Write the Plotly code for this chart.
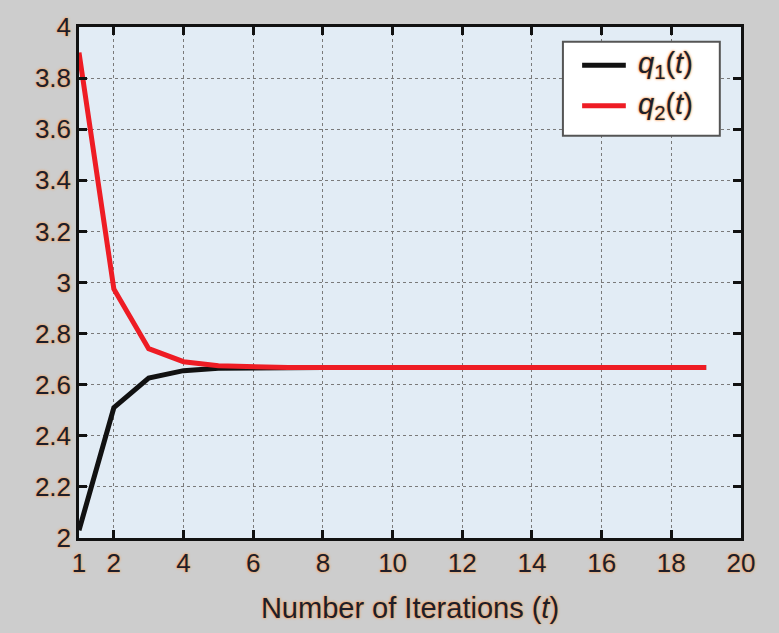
import plotly.graph_objects as go

t = list(range(1, 20))
q1 = [2.03, 2.51, 2.626, 2.655, 2.664, 2.666, 2.667, 2.667, 2.667, 2.667,
      2.667, 2.667, 2.667, 2.667, 2.667, 2.667, 2.667, 2.667, 2.667]
q2 = [3.90, 2.975, 2.741, 2.690, 2.674, 2.669, 2.667, 2.667, 2.667, 2.667,
      2.667, 2.667, 2.667, 2.667, 2.667, 2.667, 2.667, 2.667, 2.667]
x_ticks = [1, 2, 4, 6, 8, 10, 12, 14, 16, 18, 20]
y_ticks = [2, 2.2, 2.4, 2.6, 2.8, 3, 3.2, 3.4, 3.6, 3.8, 4]
y_labels = ["2", "2.2", "2.4", "2.6", "2.8", "3", "3.2", "3.4", "3.6", "3.8", "4"]
names = ["<i>q</i><sub>1</sub>(<i>t</i>)", "<i>q</i><sub>2</sub>(<i>t</i>)"]
colors = ["#111111", "#ee1c24"]

glow = "0 0 3px #f5a868, 0 0 2px #f5a868, 0 0 1px #f5a868"
family = "Liberation Sans, Arial, sans-serif"
font = dict(family=family, color="#1e1e2a", shadow=glow)

fig = go.Figure()
for ys, nm, c in zip([q1, q2], names, colors):
    fig.add_trace(go.Scatter(x=t, y=ys, mode="lines", name=nm,
                             line=dict(color=c, width=5), showlegend=False))

axis_common = dict(showline=True, linecolor="#111111", linewidth=2.5, mirror="ticks",
                   ticks="inside", ticklen=8, tickwidth=2.5, tickcolor="#111111",
                   showgrid=True, gridcolor="#7a7a7a", griddash="dot", gridwidth=1.4,
                   zeroline=False, tickfont=dict(size=26, **font))

fig.update_xaxes(range=[1, 20], tickvals=x_ticks, ticktext=[str(v) for v in x_ticks],
                 title=dict(text="Number of Iterations (<i>t</i>)", font=dict(size=29, **font),
                            standoff=21),
                 **axis_common)
fig.update_yaxes(range=[2, 4], tickvals=y_ticks, ticktext=y_labels, **axis_common)

# legend box drawn in paper coordinates
fig.add_shape(type="rect", xref="paper", yref="paper", x0=0.731, x1=0.968, y0=0.787, y1=0.971,
              fillcolor="white", line=dict(color="#555555", width=2), layer="above")
for i, (nm, c) in enumerate(zip(names, colors)):
    yy = 0.925 - i * 0.079
    fig.add_shape(type="line", xref="paper", yref="paper", x0=0.760, x1=0.826, y0=yy, y1=yy,
                  line=dict(color=c, width=5), layer="above")
    fig.add_annotation(xref="paper", yref="paper", x=0.842, y=yy, text=nm, showarrow=False,
                       xanchor="left", yanchor="middle", font=dict(size=29, **font))

fig.update_layout(
    width=779, height=633,
    margin=dict(l=79, r=38, t=17, b=95),
    paper_bgcolor="#cdcdcd",
    plot_bgcolor="#e2ecf5",
    showlegend=False,
)

fig.write_html("out.html", config={"displayModeBar": False},
               post_script="document.body.style.margin='0';")
